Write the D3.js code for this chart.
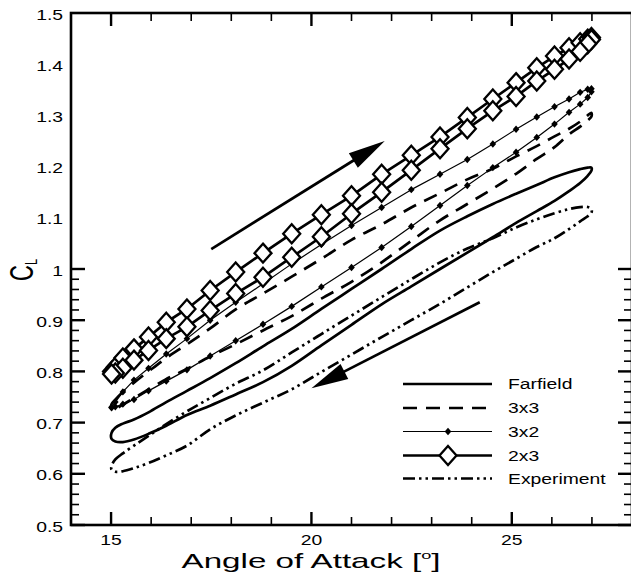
<!DOCTYPE html>
<html><head><meta charset="utf-8">
<script src="https://cdn.jsdelivr.net/npm/d3@7"></script>
<style>body{margin:0;background:#fff}svg{display:block}</style>
</head><body><svg id="c" width="631" height="576"></svg>
<script>
// Angle of attack samples (deg), ascending, shared by both branches of each loop
const alphaSteps = [15.012, 15.106, 15.294, 15.571, 15.934, 16.377, 16.893, 17.473, 18.110, 18.791, 19.508, 20.248, 21.000, 21.752, 22.492, 23.209, 23.890, 24.527, 25.107, 25.623, 26.066, 26.429, 26.706, 26.894, 26.988];

// CL, upper branch / lower branch (aligned with alphaSteps)
const farfieldUp   = [0.680, 0.690, 0.698, 0.706, 0.720, 0.740, 0.762, 0.787, 0.816, 0.849, 0.883, 0.922, 0.961, 1.000, 1.039, 1.075, 1.103, 1.127, 1.147, 1.164, 1.179, 1.189, 1.195, 1.198, 1.198];
const farfieldDown = [0.668, 0.663, 0.662, 0.667, 0.678, 0.694, 0.715, 0.733, 0.755, 0.779, 0.811, 0.851, 0.891, 0.931, 0.966, 1.000, 1.032, 1.062, 1.090, 1.113, 1.133, 1.152, 1.168, 1.182, 1.192];

const g3x3Up   = [0.736, 0.745, 0.760, 0.778, 0.800, 0.826, 0.853, 0.884, 0.921, 0.952, 0.985, 1.020, 1.057, 1.087, 1.120, 1.148, 1.175, 1.196, 1.220, 1.240, 1.259, 1.274, 1.288, 1.300, 1.305];
const g3x3Down = [0.728, 0.727, 0.735, 0.748, 0.765, 0.785, 0.805, 0.829, 0.853, 0.880, 0.908, 0.942, 0.975, 1.013, 1.055, 1.095, 1.127, 1.157, 1.186, 1.215, 1.238, 1.263, 1.278, 1.290, 1.298];

const g3x2Up   = [0.730, 0.740, 0.760, 0.783, 0.806, 0.834, 0.864, 0.900, 0.935, 0.971, 1.010, 1.048, 1.085, 1.120, 1.155, 1.185, 1.214, 1.244, 1.273, 1.297, 1.317, 1.332, 1.345, 1.351, 1.352];
const g3x2Down = [0.729, 0.731, 0.736, 0.745, 0.762, 0.781, 0.803, 0.830, 0.860, 0.892, 0.927, 0.965, 1.003, 1.042, 1.083, 1.124, 1.163, 1.198, 1.228, 1.257, 1.283, 1.306, 1.322, 1.335, 1.346];

const g2x3Up   = [0.800, 0.808, 0.826, 0.844, 0.867, 0.896, 0.922, 0.958, 0.994, 1.031, 1.069, 1.106, 1.143, 1.185, 1.222, 1.258, 1.296, 1.332, 1.364, 1.393, 1.416, 1.432, 1.442, 1.449, 1.452];
const g2x3Down = [0.795, 0.797, 0.806, 0.822, 0.841, 0.864, 0.887, 0.919, 0.952, 0.984, 1.023, 1.063, 1.108, 1.150, 1.193, 1.235, 1.274, 1.309, 1.337, 1.367, 1.390, 1.410, 1.425, 1.440, 1.448];

const expUp   = [0.615, 0.628, 0.640, 0.655, 0.674, 0.697, 0.722, 0.748, 0.776, 0.802, 0.837, 0.873, 0.909, 0.945, 0.980, 1.013, 1.040, 1.060, 1.081, 1.097, 1.109, 1.117, 1.121, 1.121, 1.117];
const expDown = [0.608, 0.604, 0.605, 0.611, 0.621, 0.636, 0.655, 0.687, 0.714, 0.739, 0.765, 0.799, 0.833, 0.867, 0.900, 0.932, 0.964, 0.994, 1.020, 1.043, 1.060, 1.078, 1.093, 1.103, 1.110];

const seriesNames = ["Farfield", "3x3", "3x2", "2x3", "Experiment"];
const xTickValues = [15, 20, 25];
const yTickValues = [0.5, 0.6, 0.7, 0.8, 0.9, 1, 1.1, 1.2, 1.3, 1.4, 1.5];
const yTickLabels = ["0.5", "0.6", "0.7", "0.8", "0.9", "1", "1.1", "1.2", "1.3", "1.4", "1.5"];
// direction arrows [alpha, CL] tail -> tip
const arrowUp = [[17.5, 1.039], [21.83, 1.250]];
const arrowDown = [[24.2, 0.935], [20.0, 0.767]];

const SX = 1.38;  // horizontal text stretch of the original picture
const SXT = 1.48; // stretch for y title
const SXX = 1.58; // stretch for x title
const FONT = "'Liberation Sans', Arial, Helvetica, sans-serif";
const svg = d3.select("#c");
const x = d3.scaleLinear().domain([14, 28]).range([71, 632]);
const y = d3.scaleLinear().domain([0.5, 1.5]).range([525, 13]);

function loop(up, down) {
  const pts = alphaSteps.map((a, i) => [a, up[i]]);
  for (let i = alphaSteps.length - 1; i >= 0; i--) pts.push([alphaSteps[i], down[i]]);
  return pts;
}
const series = [
  {name: "Farfield", pts: loop(farfieldUp, farfieldDown), w: 2.7, dash: null, marker: null},
  {name: "3x3", pts: loop(g3x3Up, g3x3Down), w: 2.7, dash: "14,9", marker: null},
  {name: "3x2", pts: loop(g3x2Up, g3x2Down), w: 1.2, dash: null, marker: "dot"},
  {name: "2x3", pts: loop(g2x3Up, g2x3Down), w: 2.7, dash: null, marker: "diamond"},
  {name: "Experiment", pts: loop(expUp, expDown), w: 2.7, dash: "12,4,2.5,4,2.5,4", marker: null}
];

const line = d3.line().x(d => x(d[0])).y(d => y(d[1])).curve(d3.curveCatmullRomClosed);
const plot = svg.append("g");
const bigD = "M0,-9.5 L8.5,0 L0,9.5 L-8.5,0 Z";
const dotD = "M0,-3.7 L3.3,0 L0,3.7 L-3.3,0 Z";

function drawMarker(g, type, px, py) {
  if (type === "dot") g.append("path").attr("d", dotD).attr("transform", `translate(${px},${py})`).attr("fill", "#000");
  if (type === "diamond") g.append("path").attr("d", bigD).attr("transform", `translate(${px},${py})`)
      .attr("fill", "#fff").attr("stroke", "#000").attr("stroke-width", 2.3);
}

series.forEach(s => {
  const lc = s.marker ? d3.line().x(d => x(d[0])).y(d => y(d[1])).curve(d3.curveLinearClosed) : line;
  plot.append("path").attr("d", lc(s.pts)).attr("fill", "none").attr("stroke", "#000")
    .attr("stroke-width", s.w).attr("stroke-dasharray", s.dash).attr("stroke-linejoin", "round");
  if (s.marker) s.pts.forEach(p => drawMarker(plot, s.marker, x(p[0]), y(p[1])));
});

// arrows
function arrow(a) {
  const x0 = x(a[0][0]), y0 = y(a[0][1]), x1 = x(a[1][0]), y1 = y(a[1][1]);
  const dx = x1 - x0, dy = y1 - y0, L = Math.hypot(dx, dy), ux = dx / L, uy = dy / L;
  const hl = 37, hw = 8.5;
  const bx = x1 - ux * hl, by = y1 - uy * hl;
  plot.append("line").attr("x1", x0).attr("y1", y0).attr("x2", bx + ux * 2).attr("y2", by + uy * 2)
    .attr("stroke", "#000").attr("stroke-width", 2.7);
  plot.append("path").attr("d", `M${x1},${y1} L${bx - uy * hw},${by + ux * hw} L${bx + uy * hw},${by - ux * hw} Z`).attr("fill", "#000");
}
arrow(arrowUp); arrow(arrowDown);

// frame & ticks
const ax = svg.append("g").attr("stroke", "#000");
ax.append("rect").attr("x", 71).attr("y", 13).attr("width", 632 - 71).attr("height", 525 - 13)
  .attr("fill", "none").attr("stroke-width", 2.6);
const xMinor = d3.range(15, 28, 1);
xMinor.forEach(v => {
  const len = xTickValues.includes(v) ? 13 : 8, w = xTickValues.includes(v) ? 2.4 : 1.6;
  ax.append("line").attr("x1", x(v)).attr("x2", x(v)).attr("y1", 525).attr("y2", 525 - len).attr("stroke-width", w);
  ax.append("line").attr("x1", x(v)).attr("x2", x(v)).attr("y1", 13).attr("y2", 13 + len).attr("stroke-width", w);
});
const yMinor = d3.range(26).map(i => 0.5 + i * 0.02).filter(v => v < 1.501);
yMinor.forEach(v => {
  const major = Math.abs(v * 10 - Math.round(v * 10)) < 1e-6;
  const len = major ? 14 : 8, w = major ? 2.4 : 1.6;
  ax.append("line").attr("x1", 71).attr("x2", 71 + len).attr("y1", y(v)).attr("y2", y(v)).attr("stroke-width", w);
  ax.append("line").attr("x1", 632).attr("x2", 632 - len).attr("y1", y(v)).attr("y2", y(v)).attr("stroke-width", w);
});

function stext(px, py, str, size, anchor) {
  return svg.append("text").attr("transform", `translate(${px},${py}) scale(${SX},1)`)
    .attr("text-anchor", anchor).attr("font-family", FONT).attr("font-size", size).attr("fill", "#000").text(str);
}
yTickValues.forEach((v, i) => stext(63, y(v) + 6.5, yTickLabels[i], 14, "end"));
xTickValues.forEach(v => stext(x(v), 544.5, String(v), 14, "middle"));

// axis titles
const xt = svg.append("text").attr("transform", `translate(311,568) scale(${SXX},1)`)
  .attr("text-anchor", "middle").attr("font-family", FONT).attr("font-size", 21).attr("fill", "#000");
xt.append("tspan").text("Angle of Attack [");
xt.append("tspan").attr("font-size", 11.5).attr("dy", -9.5).text("o");
xt.append("tspan").attr("dy", 9.5).text("]");
const yt = svg.append("text").attr("transform", `translate(33,281) scale(${SXT},1) rotate(-90)`)
  .attr("font-family", FONT).attr("font-size", 22).attr("fill", "#000");
yt.append("tspan").text("C");
yt.append("tspan").attr("font-size", 11).attr("dy", 3).text("L");

// legend
const legY = [384, 408, 431.5, 455.5, 478.5];
series.forEach((s, i) => {
  const g = svg.append("g");
  g.append("line").attr("x1", 403).attr("x2", 492).attr("y1", legY[i]).attr("y2", legY[i]).attr("stroke", "#000")
    .attr("stroke-width", s.w).attr("stroke-dasharray", s.dash);
  if (s.marker) drawMarker(g, s.marker, 448, legY[i]);
  stext(508, legY[i] + 5, seriesNames[i], 14, "start");
});
</script></body></html>
